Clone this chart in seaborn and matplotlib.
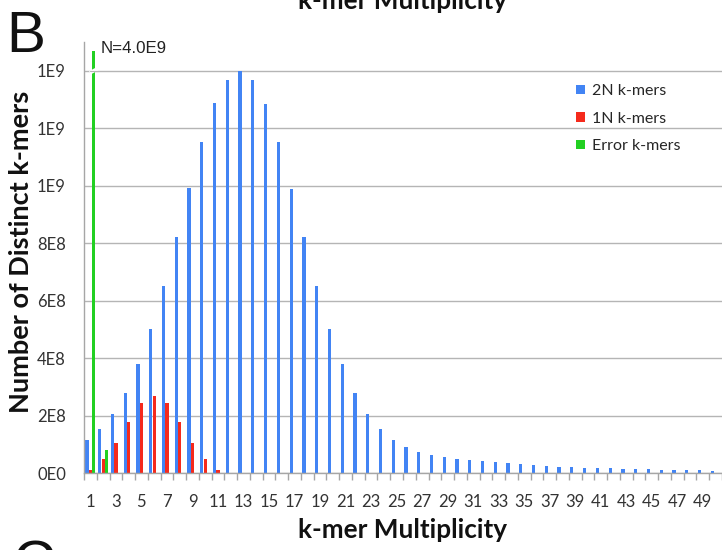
import matplotlib
matplotlib.use("Agg")
import matplotlib.pyplot as plt
from matplotlib.patches import Rectangle
from matplotlib.ticker import FixedLocator
import pandas as pd
import seaborn as sns

# k-mer multiplicity (x categories)
multiplicity = list(range(1, 51))

# distinct k-mers per multiplicity, by class
two_n_counts = [1.15e8, 1.53e8, 2.06e8, 2.80e8, 3.79e8, 5.00e8, 6.50e8, 8.20e8, 9.92e8, 1.152e9,
                1.286e9, 1.369e9, 1.400e9, 1.369e9, 1.285e9, 1.152e9, 9.90e8, 8.20e8, 6.50e8, 5.00e8,
                3.79e8, 2.80e8, 2.07e8, 1.52e8, 1.15e8, 9.1e7, 7.4e7, 6.3e7, 5.5e7, 4.9e7,
                4.4e7, 4.1e7, 3.8e7, 3.5e7, 3.1e7, 2.8e7, 2.5e7, 2.2e7, 2.0e7, 1.9e7,
                1.7e7, 1.6e7, 1.5e7, 1.4e7, 1.3e7, 1.2e7, 1.1e7, 1.0e7, 9.0e6, 8.0e6]
one_n_mult = [1, 2, 3, 4, 5, 6, 7, 8, 9, 10, 11]
one_n_counts = [1.2e7, 4.8e7, 1.06e8, 1.79e8, 2.43e8, 2.69e8, 2.43e8, 1.79e8, 1.06e8, 4.8e7, 1.2e7]
error_mult = [1, 2]
error_counts = [4.0e9, 8.0e7]

series_names = ["2N k-mers", "1N k-mers", "Error k-mers"]
series_colors = ["#4284F4", "#F52A1C", "#22D022"]

y_ticks = [0, 2e8, 4e8, 6e8, 8e8, 1.0e9, 1.2e9, 1.4e9]
y_tick_labels = ["0E0", "2E8", "4E8", "6E8", "8E8", "1E9", "1E9", "1E9"]
x_tick_labels = [str(m) if m % 2 == 1 else "" for m in multiplicity]

df = pd.concat([
    pd.DataFrame({"mult": multiplicity, "count": two_n_counts, "series": series_names[0]}),
    pd.DataFrame({"mult": one_n_mult, "count": one_n_counts, "series": series_names[1]}),
    pd.DataFrame({"mult": error_mult, "count": error_counts, "series": series_names[2]}),
], ignore_index=True)

sns.set_style("white")
plt.rcParams["font.family"] = ["Lato", "DejaVu Sans"]

W, H = 722, 550
fig = plt.figure(figsize=(W / 100, H / 100), dpi=100)
ax = fig.add_axes([84 / W, 77 / H, 638 / W, 431 / H])

sns.barplot(data=df, x="mult", y="count", hue="series", order=multiplicity,
            hue_order=series_names, palette=series_colors, saturation=1,
            width=0.8, gap=0.05, errorbar=None, linewidth=0, ax=ax)

ax.set_xlim(-0.5, len(multiplicity) - 0.5)
ax.set_ylim(0, 1.5e9)

# axis break on the error-k-mer bar that runs off the scale
y_cut = 1.47e9
for p in ax.patches:
    if abs(p.get_height() - error_counts[0]) < 1:
        p.set_clip_path(Rectangle((-1, 0), 100, y_cut, transform=ax.transData))
        gx = p.get_x() + p.get_width() / 2
        ax.plot([gx - 0.3, gx + 0.3], [1.393e9, 1.407e9], color="white", lw=2.6,
                zorder=5, solid_capstyle="butt")
        ax.plot([gx - 0.3, gx + 0.3], [1.4e9, 1.4e9], color="#B5B5B5", lw=0.8, zorder=6)
        ax.text(gx + 0.56, 1.476e9, f"N={error_counts[0] / 1e9:.1f}E9",
                family=["Liberation Sans"], fontsize=12.2, color="#222222",
                ha="left", va="center", clip_on=False)

# y axis
ax.set_yticks(y_ticks)
ax.set_yticklabels(y_tick_labels)
ax.yaxis.grid(True, color="#B5B5B5", lw=1)
ax.set_axisbelow(True)
ax.tick_params(axis="y", length=6, width=1, color="#A6A6A6", pad=7,
               labelsize=12, labelcolor="#333333")

# x axis: labels on odd categories, tick marks between categories
ax.set_xticks(range(len(multiplicity)))
ax.set_xticklabels(x_tick_labels)
ax.xaxis.set_minor_locator(FixedLocator([i - 0.5 for i in range(len(multiplicity) + 1)]))
ax.tick_params(axis="x", which="major", length=0, pad=15, labelsize=12, labelcolor="#333333")
ax.tick_params(axis="x", which="minor", length=5, width=1, color="#A6A6A6", bottom=True)

for side in ("top", "right"):
    ax.spines[side].set_visible(False)
for side in ("left", "bottom"):
    ax.spines[side].set_color("#A6A6A6")
    ax.spines[side].set_linewidth(1)

ax.set_xlabel("k-mer Multiplicity", fontsize=18.8, fontweight="bold", color="#111111")
ax.xaxis.set_label_coords(0.5, -0.150)
ax.xaxis.label.set_va("baseline")
ax.set_ylabel("Number of Distinct k-mers", fontsize=19.5, fontweight="bold", color="#111111")
ax.yaxis.set_label_coords(-0.080, 0.512)

sns.move_legend(ax, loc="upper left", bbox_to_anchor=(0.771, 0.902), frameon=False,
                title=None, fontsize=11.5, handlelength=0.55, handleheight=0.55,
                handletextpad=0.45, labelspacing=0.84, borderpad=0, borderaxespad=0)

fig.text(403 / W, 1 - 9 / H, "k-mer Multiplicity", ha="center", va="baseline",
         fontsize=18.8, fontweight="bold", color="#111111")
fig.text(6 / W, 1 - 10 / H, "B", family=["Liberation Sans"], fontsize=42,
         ha="left", va="top", color="#111111")
fig.text(13 / W, 1 - 539 / H, "C", family=["Liberation Sans"], fontsize=42,
         ha="left", va="top", color="#111111")

fig.savefig("out.png", dpi=100)
